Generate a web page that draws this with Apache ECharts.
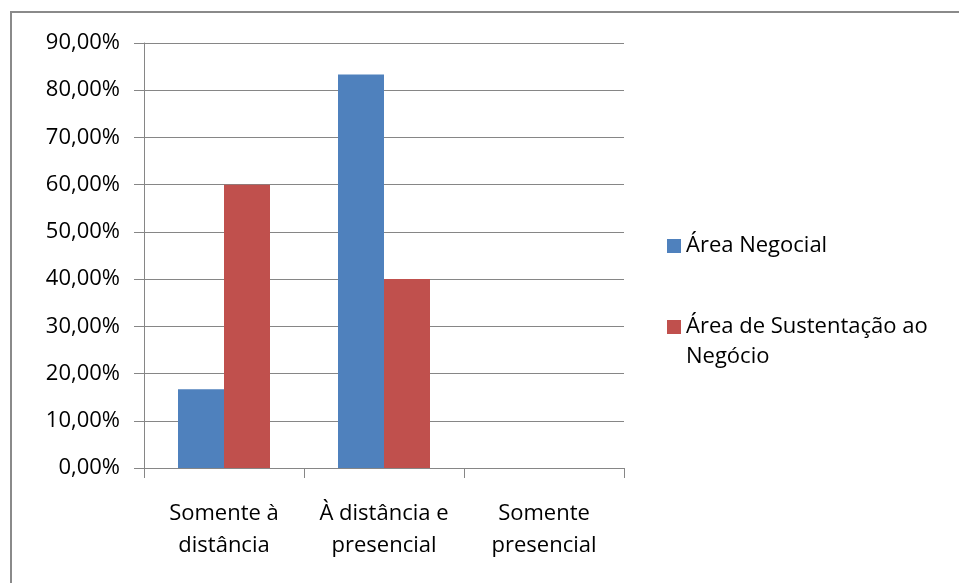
<!DOCTYPE html>
<html>
<head>
<meta charset="utf-8">
<script src="https://cdn.jsdelivr.net/npm/echarts@6/dist/echarts.min.js"></script>
<style>
  html, body { margin: 0; padding: 0; background: #fff; }
  #chart { width: 959px; height: 583px; }
</style>
</head>
<body>
<div id="chart"></div>
<script>
// Modalidade de capacitação por área
const categories = ['Somente à\ndistância', 'À distância e\npresencial', 'Somente\npresencial'];
const seriesNames = ['Área Negocial', 'Área de Sustentação ao Negócio'];
const areaNegocial = [16.67, 83.33, 0];
const areaSustentacao = [60.0, 40.0, 0];
const yTicks = { min: 0, max: 90, interval: 10 };

const FONT = 'Open Sans';
const GRID_COLOR = '#868686';
const chart = echarts.init(document.getElementById('chart'));

const legendText = { fontFamily: FONT, fontSize: 22, color: '#000', lineHeight: 30 };

chart.setOption({
  backgroundColor: '#ffffff',
  animation: false,
  graphic: [{
    type: 'rect',
    shape: { x: 11, y: 12, width: 1200, height: 1000 },
    style: { fill: 'none', stroke: '#8a8a8a', lineWidth: 2 },
    silent: true
  }],
  grid: { left: 144, right: 335, top: 43, bottom: 115, containLabel: false },
  legend: [{
    data: [seriesNames[0]],
    orient: 'vertical',
    left: 662, top: 226,
    itemWidth: 14, itemHeight: 14,
    icon: 'rect',
    textStyle: legendText
  }, {
    data: [seriesNames[1]],
    orient: 'vertical',
    left: 662, top: 277,
    itemWidth: 14, itemHeight: 14,
    icon: 'rect',
    // leading blank line keeps the marker level with the first text line
    formatter: function (n) { return ' \n' + n.replace(' Negócio', '\nNegócio'); },
    textStyle: legendText
  }],
  xAxis: {
    type: 'category',
    data: categories,
    axisLine: { lineStyle: { color: GRID_COLOR, width: 1 } },
    axisTick: { show: true, length: 10, lineStyle: { color: GRID_COLOR } },
    axisLabel: { interval: 0, fontFamily: FONT, fontSize: 22, color: '#000', lineHeight: 32, margin: 30 }
  },
  yAxis: {
    type: 'value',
    min: yTicks.min, max: yTicks.max, interval: yTicks.interval,
    axisLine: { show: true, lineStyle: { color: GRID_COLOR, width: 1 } },
    axisTick: { show: true, inside: false, length: 10, lineStyle: { color: GRID_COLOR } },
    splitLine: { show: true, lineStyle: { color: GRID_COLOR, width: 1 } },
    axisLabel: {
      fontFamily: FONT, fontSize: 22, color: '#000', margin: 24,
      formatter: function (v) { return v.toFixed(2).replace('.', ',') + '%'; }
    }
  },
  series: [{
    name: seriesNames[0],
    type: 'bar',
    data: areaNegocial,
    barWidth: 46,
    barGap: '0%',
    itemStyle: { color: '#4F81BD' }
  }, {
    name: seriesNames[1],
    type: 'bar',
    data: areaSustentacao,
    barWidth: 46,
    barGap: '0%',
    itemStyle: { color: '#C0504D' }
  }]
});
</script>
</body>
</html>
